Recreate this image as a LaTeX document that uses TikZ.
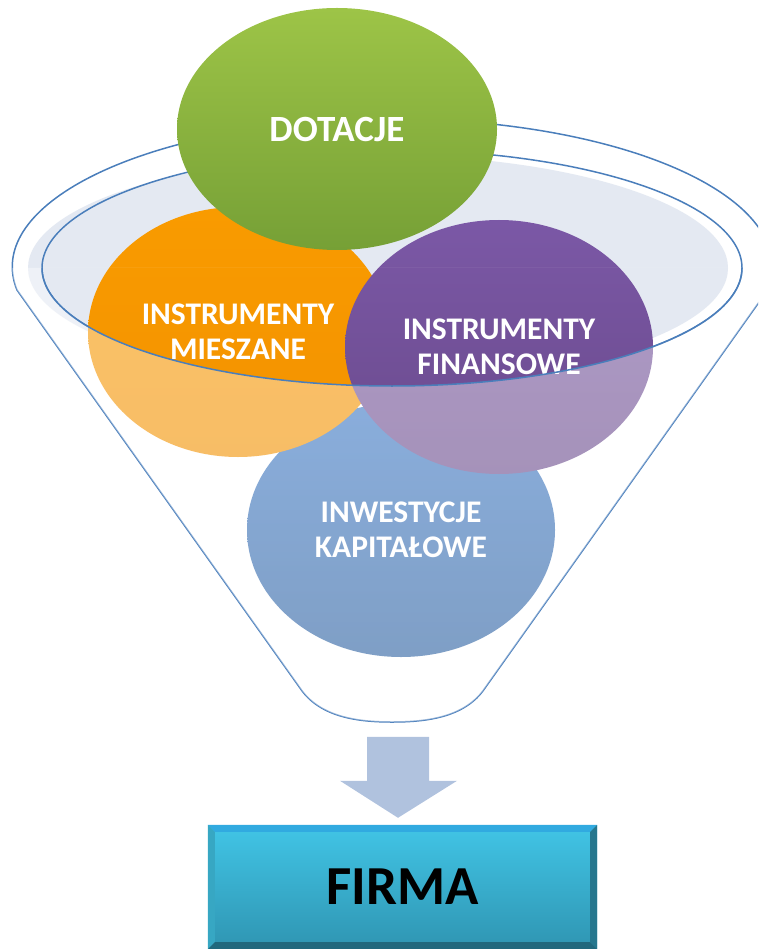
\documentclass[tikz,border=0pt]{standalone}
\usepackage{fontspec}
\setmainfont{Carlito}
\usetikzlibrary{shapes.geometric}
\definecolor{rimblue}{HTML}{4A7EBB}
\definecolor{rimfill}{HTML}{E4E9F2}
\definecolor{greenA}{HTML}{9DC447}
\definecolor{greenB}{HTML}{76A036}
\definecolor{orangeA}{HTML}{F99B00}
\definecolor{orangeB}{HTML}{F39200}
\definecolor{purpleA}{HTML}{7B58A6}
\definecolor{purpleB}{HTML}{6A4A8C}
\definecolor{blueA}{HTML}{3C78C5}
\definecolor{blueB}{HTML}{2A5FA0}
\definecolor{arrowblue}{HTML}{B0C2DE}
\definecolor{firmaA}{HTML}{41C5E6}
\definecolor{firmaB}{HTML}{2F95B2}

\begin{document}
\begin{tikzpicture}[x=1pt,y=1pt,
rim/.style={draw=rimblue,line width=1.5pt},
funnelpath/.style={insert path={(17,-290) arc[start angle=189,end angle=-9,x radius=380,y radius=148]
 -- (485,-688) .. controls (465,-718) and (425,-722) .. (392,-722)
 .. controls (360,-722) and (320,-718) .. (300,-688) -- cycle}},
bubble/.style={ellipse,inner sep=0pt,align=center,text=white,
 font=\fontsize{31.5}{35}\selectfont\bfseries},
bevel/.style={fill=#1,draw=none}]
\useasboundingbox (0,0) rectangle (758,-949);
\clip (0,0) rectangle (758,-949);
% funnel
\draw[rim,fill=white,funnelpath];
\fill[rimfill] (378,-268) ellipse[x radius=350,y radius=113];
\draw[rim] (392,-268) ellipse[x radius=350,y radius=118];
\coordinate (spout) at (392,-722);
% bubbles
\node[bubble,minimum width=308pt,minimum height=254pt,top color=blueA,bottom color=blueB] (inwest) at (401,-530) {INWESTYCJE\\KAPITAŁOWE};
\node[bubble,minimum width=300pt,minimum height=250pt,top color=orangeA,bottom color=orangeB] (mieszane) at (238,-332) {INSTRUMENTY\\MIESZANE};
\node[bubble,minimum width=308pt,minimum height=254pt,top color=purpleA,bottom color=purpleB] (finansowe) at (499,-347) {INSTRUMENTY\\FINANSOWE};
% front wall of the funnel
\begin{scope}
\clip[funnelpath];
\fill[white,fill opacity=.4,even odd rule] (0,-268) rectangle (758,-949)
 (42,-268) arc[start angle=180,end angle=360,x radius=350,y radius=118] -- cycle;
\end{scope}
\draw[rim] (42,-268) arc[start angle=180,end angle=360,x radius=350,y radius=118];
\node[bubble,minimum width=320pt,minimum height=242pt,top color=greenA,bottom color=greenB,
 font=\fontsize{37}{40}\selectfont\bfseries] (dotacje) at (337,-129) {DOTACJE};
% target
\node[rectangle,minimum width=389pt,minimum height=124pt,top color=firmaA,bottom color=firmaB] (firma) at (402.5,-887) {};
\fill[bevel=cyan!45!firmaA] (firma.north west) -- (firma.north east) -- ([shift={(-7,-7)}]firma.north east) -- ([shift={(7,-7)}]firma.north west) -- cycle;
\fill[bevel=firmaA!85!black] (firma.north west) -- ([shift={(7,-7)}]firma.north west) -- ([shift={(7,7)}]firma.south west) -- (firma.south west) -- cycle;
\fill[bevel=firmaB!80!black] (firma.north east) -- ([shift={(-7,-7)}]firma.north east) -- ([shift={(-7,7)}]firma.south east) -- (firma.south east) -- cycle;
\fill[bevel=firmaB!70!black] (firma.south west) -- ([shift={(7,7)}]firma.south west) -- ([shift={(-7,7)}]firma.south east) -- (firma.south east) -- cycle;
\node[font=\fontsize{55}{60}\selectfont\bfseries] (firmatext) at (firma) {FIRMA};
% arrow
\coordinate (tip) at ([xshift=-4.5,yshift=7]firma.north);
\fill[arrowblue] (tip) -- ++(59,37) -- ++(-28,0) -- ++(0,44) -- ++(-62,0) -- ++(0,-44) -- ++(-27,0) -- cycle;
\end{tikzpicture}
\end{document}
